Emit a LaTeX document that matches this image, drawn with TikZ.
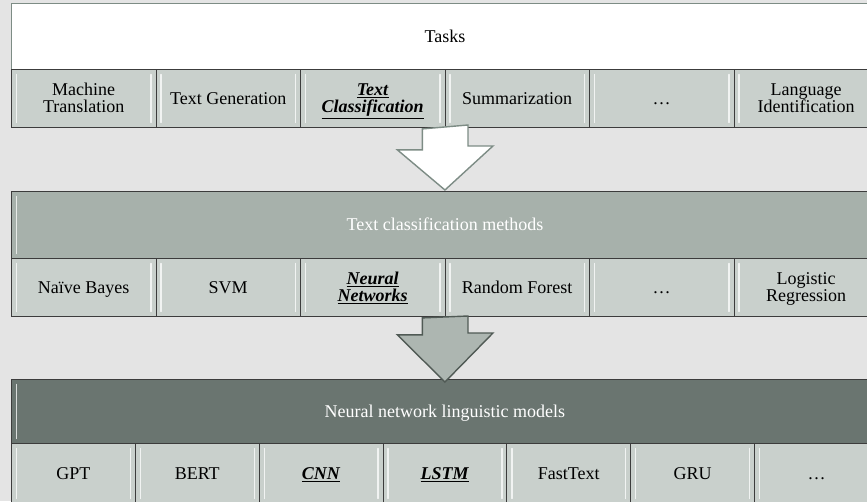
\documentclass[tikz,border=0pt]{standalone}
\usepackage{fontspec}
\setmainfont{Liberation Serif}
\definecolor{bgc}{HTML}{E4E4E4}
\definecolor{cellc}{HTML}{C9D0CC}
\definecolor{hdrmid}{HTML}{A7B1AB}
\definecolor{hdrdark}{HTML}{6A7570}
\definecolor{linec}{HTML}{3C3C3C}
\definecolor{arrline}{HTML}{7D8C85}
\definecolor{arr2fill}{HTML}{ADB6B1}
\definecolor{arr2line}{HTML}{505A55}
\newcommand{\hl}[1]{\underline{\textbf{\textit{#1}}}}
\newcommand{\twol}[2]{\makebox[0pt]{\smash{\raisebox{8.5pt}{#1}}}\makebox[0pt]{\smash{\raisebox{-8.5pt}{#2}}}}
\begin{document}
\begin{tikzpicture}[x=1pt,y=-1pt,
  bevel/.style={path picture={
    \draw[white,opacity=.75,line width=1.3pt,line cap=round]
      ([xshift=5pt,yshift=-5pt]path picture bounding box.north west) --
      ([xshift=5pt,yshift=5pt]path picture bounding box.south west);
    \draw[white,opacity=.75,line width=1.3pt,line cap=round]
      ([xshift=-5pt,yshift=-5pt]path picture bounding box.north east) --
      ([xshift=-5pt,yshift=5pt]path picture bounding box.south east);}},
  cellbox/.style={draw=linec,line width=0.9pt,fill=cellc,anchor=north west,
    inner sep=0pt,font=\fontsize{18}{17}\selectfont,text=black,bevel,
    text height=12pt,text depth=0pt},
  cellA/.style={cellbox,minimum width=144.5pt,minimum height=58pt},
  cellC/.style={cellbox,minimum width=123.86pt,minimum height=60pt},
  hdrbox/.style={draw=linec,line width=0.9pt,anchor=north west,minimum width=867pt,
    inner sep=0pt,font=\fontsize{18}{17}\selectfont,text height=12pt,text depth=0pt},
  blockarrow/.style={line width=1.4pt,line join=miter}
]
\useasboundingbox (0,0) rectangle (867,501);
\clip (0,0) rectangle (867,501);
\fill[bgc] (0,0) rectangle (867,501);

% Tasks block
\node[hdrbox,fill=white,draw=arrline,minimum height=66pt,text=black] (tasks) at (11,3) {Tasks};
\node[cellA] (t1) at (11,69) {\twol{Machine}{Translation}};
\node[cellA] (t2) at (155.5,69) {Text Generation};
\node[cellA] (t3) at (300,69) {\twol{\hl{Text}}{\hl{Classification}}};
\node[cellA] (t4) at (444.5,69) {Summarization};
\node[cellA] (t5) at (589,69) {\dots};
\node[cellA] (t6) at (733.5,69) {\twol{Language}{Identification}};

% Methods block
\node[hdrbox,fill=hdrmid,minimum height=67pt,text=white,bevel] (methods) at (11,191) {Text classification methods};
\node[cellA] (m1) at (11,258) {Naïve Bayes};
\node[cellA] (m2) at (155.5,258) {SVM};
\node[cellA] (m3) at (300,258) {\twol{\hl{Neural}}{\hl{Networks}}};
\node[cellA] (m4) at (444.5,258) {Random Forest};
\node[cellA] (m5) at (589,258) {\dots};
\node[cellA] (m6) at (733.5,258) {\twol{Logistic}{Regression}};

% Models block
\node[hdrbox,fill=hdrdark,minimum height=64pt,text=white,bevel] (models) at (11,379) {Neural network linguistic models};
\node[cellC] (n1) at (11,443) {GPT};
\node[cellC] (n2) at (134.86,443) {BERT};
\node[cellC] (n3) at (258.71,443) {\hl{CNN}};
\node[cellC] (n4) at (382.57,443) {\hl{LSTM}};
\node[cellC] (n5) at (506.43,443) {FastText};
\node[cellC] (n6) at (630.29,443) {GRU};
\node[cellC] (n7) at (754.14,443) {\dots};

% Block arrows
\coordinate (a1) at ([yshift=-1pt]t3.south east);
\coordinate (a2) at ([yshift=-1pt]m3.south east);
\draw[blockarrow,draw=arrline,fill=white]
  (a1) ++(-23,0) -- ++(0,21) -- ++(-25,0) -- ([yshift=1pt]methods.north) -- ++(48,-44) -- ++(-25,0) -- ++(0,-21) -- cycle;
\draw[blockarrow,draw=arr2line,fill=arr2fill]
  (a2) ++(-23,0) -- ++(0,17) -- ++(-25,0) -- ([yshift=-3pt]models.north) -- ++(48,-49) -- ++(-25,0) -- ++(0,-17) -- cycle;
\end{tikzpicture}
\end{document}
